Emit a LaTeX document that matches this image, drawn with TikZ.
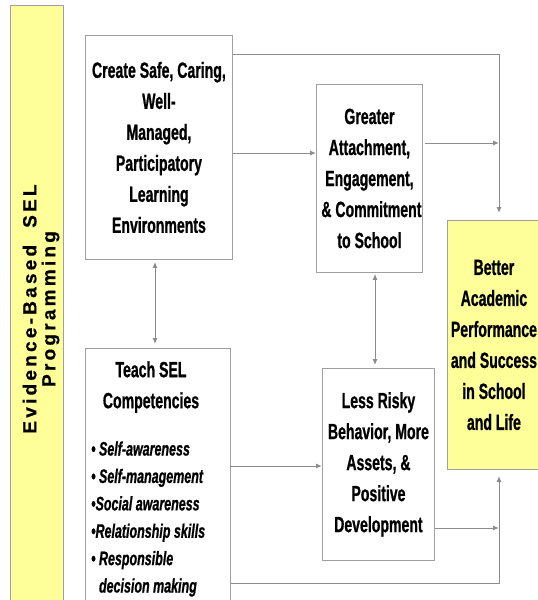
\documentclass[tikz,border=0pt]{standalone}
\usepackage{fontspec}
\setmainfont{Liberation Sans}[FakeStretch=0.64, FakeBold=0.8]
\newfontfamily\barfont{Liberation Sans}[LetterSpace=17, FakeBold=0.6]
\usetikzlibrary{arrows.meta}
\definecolor{lin}{HTML}{8C8C8C}
\definecolor{brd}{HTML}{A0A0A0}
\definecolor{yel}{HTML}{FFFF99}
\tikzset{
 box/.style={draw=brd, line width=0.9pt, fill=white, inner sep=0pt, anchor=north west},
 ybox/.style={box, fill=yel},
 lbl/.style={font=\bfseries\fontsize{22}{31}\selectfont, align=center, inner sep=0pt},
 con/.style={draw=lin, line width=1pt, -{Latex[length=6pt,width=5pt]}},
 dcon/.style={draw=lin, line width=1pt, {Latex[length=6pt,width=5pt]}-{Latex[length=6pt,width=5pt]}},
}
\begin{document}
\begin{tikzpicture}[x=1pt,y=-1pt]
\useasboundingbox (0,0) rectangle (538,600);
\begin{scope}
\clip (0,0) rectangle (538,600);
% left bar
\node[ybox, minimum width=53pt, minimum height=605pt] (bar) at (10,5) {};
\node[rotate=90, font=\barfont\bfseries\fontsize{19}{19}\selectfont, align=center, inner sep=0pt] (bt) at (41,309) {Evidence-Based\ \ SEL\\Programming};
% boxes
\node[box, lbl, minimum width=147pt, minimum height=224pt] (A) at (85,35) {Create Safe, Caring,\\Well-\\Managed,\\Participatory\\Learning\\Environments};
\node[box, lbl, minimum width=106pt, minimum height=188pt] (B) at (316,84) {Greater\\Attachment,\\Engagement,\\\ \& Commitment\\to School};
\node[ybox, lbl, minimum width=93pt, minimum height=249pt] (C) at (447,220) {Better\\Academic\\Performance\\and Success\\in School\\and Life};
\node[box, minimum width=145pt, minimum height=262pt] (D) at (85,348) {};
\node[box, lbl, minimum width=112pt, minimum height=192pt] (E) at (322,368) {Less Risky\\Behavior, More\\Assets, \&\\Positive\\Development};
\node[lbl] (D1) at (151,387) {Teach SEL\\Competencies};
\node[font=\bfseries\itshape\fontsize{19.5}{27.4}\selectfont, align=left, anchor=west, inner sep=0pt] (D2) at (91,519) {• Self-awareness\\• Self-management\\•Social awareness\\•Relationship skills\\• Responsible\\\hphantom{• }decision making};
% junction coordinates
\coordinate (t1) at (499,213);
\coordinate (m1) at (499,143);
\coordinate (m2) at (499,528);
\coordinate (t2) at (499,476);
% connectors
\draw[con] (A.east |- 0,54) -| (t1);
\draw[con] (A.east |- 0,153) -- (B.west |- 0,153);
\draw[con] ([xshift=2pt]B.east |- 0,143) -- (m1);
\draw[dcon, shorten <=2pt, shorten >=4pt] (155,0 |- A.south) -- (155,0 |- D.north);
\draw[dcon, shorten <=1pt, shorten >=3pt] (375,0 |- B.south) -- (375,0 |- E.north);
\draw[con] (D.east |- 0,466) -- (E.west |- 0,466);
\draw[con] (E.east |- 0,528) -- (m2);
\draw[con] (D.east |- 0,583) -| (t2);
\end{scope}
\end{tikzpicture}
\end{document}
